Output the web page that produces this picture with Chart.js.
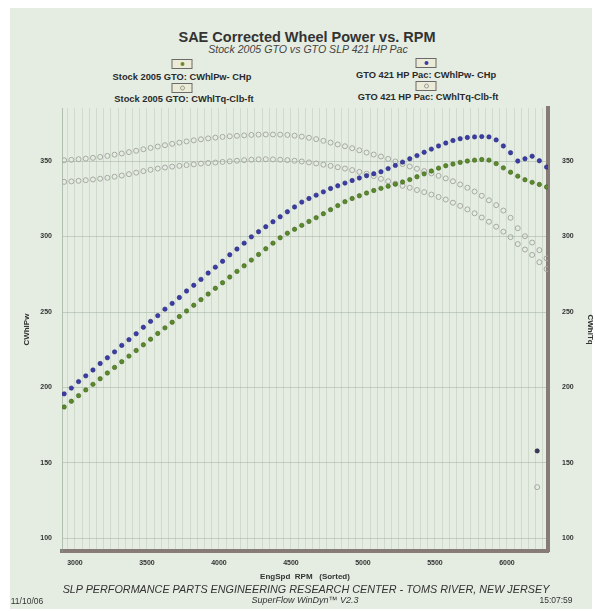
<!DOCTYPE html>
<html lang="en">
<head>
  <meta charset="UTF-8" />
  <title>SAE Corrected Wheel Power vs. RPM</title>
  <script src="https://cdn.jsdelivr.net/npm/chart.js"></script>
  <style>
    body { margin: 0; background: #fff; font-family: "Liberation Sans", Arial, sans-serif; }
    .sheet { position: relative; width: 595px; height: 611px; overflow: hidden; }
    .panel { position: absolute; left: 10px; top: 8px; width: 582px; height: 601px; background: #e5ede2; }
    .t { position: absolute; white-space: nowrap; color: #2e2e2e; transform: translate(-50%, -50%); }
    .title { font-weight: bold; font-size: 14.5px; color: #333; }
    .sub { font-style: italic; font-size: 10.6px; color: #444; }
    .leg { font-weight: bold; font-size: 9.3px; color: #2a2a2a; }
    .box { position: absolute; width: 19px; height: 8px; border: 1px solid #6a6a6a; background: #ecebd8;
           transform: translate(-50%, -50%); }
    .box i { position: absolute; left: 50%; top: 50%; width: 4px; height: 4px; border-radius: 50%;
             transform: translate(-50%, -50%); }
    .foot { font-style: italic; font-size: 10.8px; color: #333; }
    .small { font-size: 8.5px; color: #333; }
    #dyno { position: absolute; left: 0; top: 90px; }
  </style>
</head>
<body>
<div class="sheet">
  <div class="panel"></div>

  <div class="t title" style="left:307px; top:37px">SAE Corrected Wheel Power vs. RPM</div>
  <div class="t sub" style="left:308px; top:49px">Stock 2005 GTO vs GTO SLP 421 HP Pac</div>

  <!-- legend -->
  <div class="box" style="left:182px; top:64px"><i style="background:#6f8a2a"></i></div>
  <div class="t leg" style="left:182px; top:77px">Stock 2005 GTO: CWhlPw- CHp</div>
  <div class="box" style="left:182px; top:88px"><i style="border:1px solid #9a9c96; width:3px; height:3px"></i></div>
  <div class="t leg" style="left:184px; top:99px">Stock 2005 GTO: CWhlTq-Clb-ft</div>

  <div class="box" style="left:426px; top:63px"><i style="background:#3b3ca6"></i></div>
  <div class="t leg" style="left:426px; top:75px">GTO 421 HP Pac: CWhlPw- CHp</div>
  <div class="box" style="left:426px; top:86px"><i style="border:1px solid #9a9c96; width:3px; height:3px"></i></div>
  <div class="t leg" style="left:428px; top:97px">GTO 421 HP Pac: CWhlTq-Clb-ft</div>

  <canvas id="dyno" width="595" height="500"></canvas>

  <div class="t foot" style="left:306px; top:589px">SLP PERFORMANCE PARTS ENGINEERING RESEARCH CENTER - TOMS RIVER, NEW JERSEY</div>
  <div class="t small" style="left:27px; top:601px">11/10/06</div>
  <div class="t foot" style="left:305px; top:600px; font-size:9px">SuperFlow WinDyn™ V2.3</div>
  <div class="t small" style="left:556px; top:600px">15:07:59</div>
</div>

<script>
  // engine speed samples (rpm)
  const rpm = [
    2925, 2975, 3025, 3075, 3125, 3175, 3225, 3275, 3325, 3375,
    3425, 3475, 3525, 3575, 3625, 3675, 3725, 3775, 3825, 3875,
    3925, 3975, 4025, 4075, 4125, 4175, 4225, 4275, 4325, 4375,
    4425, 4475, 4525, 4575, 4625, 4675, 4725, 4775, 4825, 4875,
    4925, 4975, 5025, 5075, 5125, 5175, 5225, 5275, 5325, 5375,
    5425, 5475, 5525, 5575, 5625, 5675, 5725, 5775, 5825, 5875,
    5925, 5975, 6025, 6075, 6125, 6175, 6225, 6275
  ];

  // GTO 421 HP Pac: CWhlPw (blue)
  const pacPw = [
    195.8, 199.6, 203.9, 207.7, 211.6, 215.9, 219.7, 223.6, 227.9, 231.7,
    235.6, 239.9, 243.8, 247.6, 251.9, 255.7, 259.6, 263.9, 267.7, 271.6,
    275.8, 279.7, 283.6, 287.9, 291.7, 295.6, 299.8, 303.2, 306.5, 309.8,
    313.1, 316.4, 319.6, 322.8, 325.2, 327.4, 329.6, 331.8, 333.6, 335.4,
    337.1, 338.8, 340.3, 341.6, 342.9, 345.0, 347.1, 349.3, 351.5, 353.6,
    355.8, 357.9, 360.0, 361.9, 363.6, 364.8, 365.6, 366.0, 366.2, 366.0,
    364.0, 360.0, 355.5, 350.0, 351.5, 353.2, 350.2, 346.0
  ];

  // Stock 2005 GTO: CWhlPw (green)
  const stockPw = [
    187.1, 190.9, 194.6, 198.4, 202.1, 205.8, 209.6, 213.3, 217.1, 220.8,
    224.5, 228.3, 232.0, 235.8, 239.5, 243.2, 247.0, 250.7, 254.5, 258.2,
    261.9, 265.7, 269.4, 273.2, 276.9, 280.6, 284.4, 288.1, 291.9, 295.6,
    299.2, 302.2, 304.8, 307.4, 310.0, 312.5, 315.1, 317.8, 320.5, 323.1,
    325.2, 327.0, 328.8, 330.5, 331.9, 333.3, 334.7, 336.1, 337.7, 339.6,
    341.5, 343.4, 345.3, 346.9, 348.0, 349.1, 350.0, 350.6, 351.0, 350.6,
    348.3, 345.5, 342.6, 340.0, 337.6, 335.9, 334.5, 332.8
  ];

  // GTO 421 HP Pac: CWhlTq (upper hollow)
  const pacTq = [
    350.5, 350.8, 351.2, 351.6, 352.1, 352.7, 353.4, 354.2, 355.0, 355.9,
    356.8, 357.8, 358.7, 359.6, 360.5, 361.4, 362.2, 363.0, 363.7, 364.4,
    365.0, 365.5, 366.0, 366.4, 366.7, 367.0, 367.3, 367.5, 367.6, 367.6,
    367.5, 367.3, 366.8, 366.2, 365.4, 364.5, 363.4, 362.2, 361.0, 359.8,
    358.5, 357.1, 355.6, 354.3, 353.0, 351.4, 349.7, 348.0, 346.4, 344.9,
    343.3, 341.8, 340.2, 338.5, 336.6, 334.5, 332.3, 329.8, 327.0, 324.0,
    320.8, 317.2, 312.4, 305.5, 300.2, 296.0, 291.0, 285.5
  ];

  // Stock 2005 GTO: CWhlTq (lower hollow)
  const stockTq = [
    336.2, 336.5, 336.9, 337.3, 337.8, 338.3, 338.9, 339.6, 340.4, 341.3,
    342.3, 343.3, 344.2, 345.0, 345.7, 346.3, 346.8, 347.3, 347.8, 348.3,
    348.7, 349.0, 349.4, 349.8, 350.2, 350.6, 350.9, 351.1, 351.2, 351.1,
    350.9, 350.6, 350.2, 349.7, 349.1, 348.4, 347.6, 346.8, 345.9, 345.0,
    344.0, 342.8, 341.6, 340.0, 338.2, 336.6, 335.0, 333.6, 332.3, 330.8,
    329.4, 327.8, 326.2, 324.5, 322.4, 320.3, 318.0, 315.4, 312.6, 309.8,
    306.5, 303.2, 299.6, 295.0, 291.4, 287.8, 283.0, 278.5
  ];

  // two lone samples near the right edge
  const strayRpm = [6210];
  const strayPw = [158];
  const strayTq = [134];

  const xTickLabels = [3000, 3500, 4000, 4500, 5000, 5500, 6000];
  const yTickLabels = [100, 150, 200, 250, 300, 350];

  const pts = (xs, ys) => xs.map((x, i) => ({ x, y: ys[i] }));

  const filled = (label, xs, ys, fill, edge) => ({
    label, data: pts(xs, ys), showLine: false, order: 1,
    pointRadius: 2.2, pointBackgroundColor: fill, pointBorderColor: edge, pointBorderWidth: 0.6
  });
  const hollow = (label, xs, ys) => ({
    label, data: pts(xs, ys), showLine: false, order: 3,
    pointRadius: 2.5, pointBackgroundColor: 'rgba(0,0,0,0)', pointBorderColor: '#a6a8a2', pointBorderWidth: 1
  });

  const tickFont = { family: "'Liberation Sans', Arial", size: 7, weight: 'bold' };
  const titleFont = { family: "'Liberation Sans', Arial", size: 8, weight: 'bold' };
  const gridCol = 'rgba(140,158,140,0.24)';
  const frameCol = '#877b77';

  new Chart(document.getElementById('dyno'), {
    type: 'scatter',
    data: {
      datasets: [
        filled('GTO 421 HP Pac: CWhlPw- CHp', rpm, pacPw, '#3b3ca6', '#27287a'),
        filled('Stock 2005 GTO: CWhlPw- CHp', rpm, stockPw, '#5b8a2a', '#3c5f1a'),
        hollow('GTO 421 HP Pac: CWhlTq-Clb-ft', rpm, pacTq),
        hollow('Stock 2005 GTO: CWhlTq-Clb-ft', rpm, stockTq),
        filled('stray Pw', strayRpm, strayPw, '#3a3a5a', '#2a2a3a'),
        hollow('stray Tq', strayRpm, strayTq)
      ]
    },
    options: {
      responsive: false,
      animation: false,
      layout: { padding: { left: 22, top: 8, right: 0, bottom: 8 } },
      plugins: { legend: { display: false }, tooltip: { enabled: false } },
      scales: {
        x: {
          type: 'linear', position: 'bottom', min: 2910, max: 6285,
          afterBuildTicks: s => {
            const t = [];
            for (let v = 2950; v <= 6250; v += 50) t.push({ value: v });
            s.ticks = t;
          },
          afterFit: s => { s.height = 31; },
          ticks: {
            autoSkip: false, maxRotation: 0, padding: 8, color: '#333', font: tickFont,
            callback: v => xTickLabels.includes(v) ? String(v) : ''
          },
          grid: { color: gridCol, drawTicks: false },
          border: { color: frameCol, width: 4 },
          title: { display: true, text: 'EngSpd  RPM   (Sorted)', color: '#333', font: titleFont, padding: 0 }
        },
        y: {
          position: 'left', min: 91.7, max: 385,
          afterBuildTicks: s => { s.ticks = yTickLabels.map(v => ({ value: v })); },
          afterFit: s => { s.width = 40; },
          ticks: { padding: 10, color: '#333', font: tickFont },
          grid: { color: 'rgba(140,158,140,0.4)', drawTicks: false },
          border: { color: 'rgba(140,158,140,0.6)', width: 1 },
          title: { display: true, text: 'CWhlPw', color: '#333', font: titleFont, padding: 0 }
        },
        y2: {
          position: 'right', min: 91.7, max: 385,
          afterBuildTicks: s => { s.ticks = yTickLabels.map(v => ({ value: v })); },
          afterFit: s => { s.width = 47; },
          ticks: { padding: 14, color: '#333', font: tickFont },
          grid: { drawOnChartArea: false, drawTicks: false },
          border: { color: frameCol, width: 4 },
          title: { display: true, text: 'CWhlTq', color: '#333', font: titleFont, padding: 0 }
        }
      }
    }
  });
</script>
</body>
</html>
